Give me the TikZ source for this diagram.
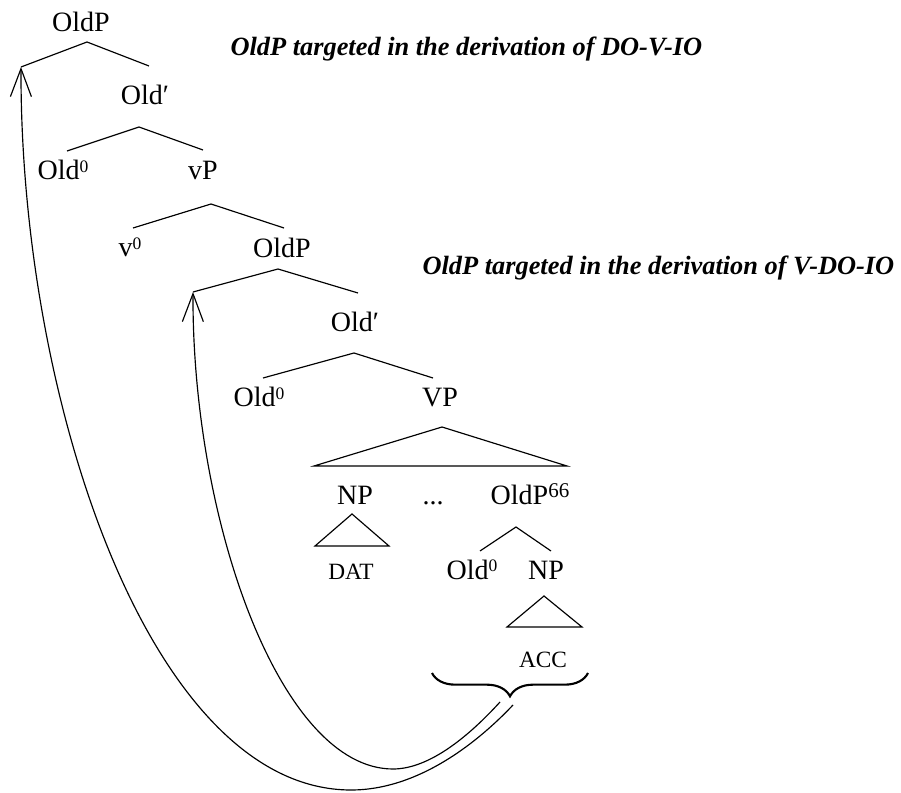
\documentclass[tikz,border=0pt]{standalone}
\usepackage{fontspec}
\setmainfont{Liberation Serif}
\usetikzlibrary{arrows.meta,decorations.pathreplacing}
\newcommand\zero{\raisebox{3.2pt}{\fontsize{7.5}{8}\selectfont 0}}
\newcommand\sixsix{\raisebox{3.4pt}{\fontsize{9}{10}\selectfont 66}}

\begin{document}
\begin{tikzpicture}[x=0.4286pt, y=-0.4286pt, line width=0.5pt,
  lab/.style={inner sep=0pt, anchor=base, font=\fontsize{12}{14}\selectfont},
  leaf/.style={inner sep=0pt, anchor=base, font=\fontsize{10}{12}\selectfont},
  note/.style={inner sep=0pt, anchor=base west, font=\fontsize{11.3}{13}\selectfont\bfseries\itshape},
  move/.style={-{Straight Barb[length=12pt,width=9pt]}}]
  \useasboundingbox (0,0) rectangle (901,793);

  % labels of the tree
  \node[lab] (oldp1) at (81,32) {OldP};
  \node[lab] (obar1) at (145,105) {Old′};
  \node[lab] (old1) at (63,180) {Old\zero};
  \node[lab] (vp1) at (203,180) {vP};
  \node[lab] (vzero) at (130,257) {v\zero};
  \node[lab] (oldp2) at (282,258) {OldP};
  \node[lab] (obar2) at (355,332) {Old′};
  \node[lab] (old2) at (259,407) {Old\zero};
  \node[lab] (vp2) at (440,407) {VP};
  \node[lab] (np1) at (355,505) {NP};
  \node[lab] (dots) at (433,505) {...};
  \node[lab] (oldp3) at (530,505) {OldP\sixsix};
  \node[leaf] (dat) at (351,579) {DAT};
  \node[lab] (old3) at (472,579) {Old\zero};
  \node[lab] (np3) at (546,579) {NP};
  \node[leaf] (acc) at (543,667) {ACC};
  \node[note] (note1) at (230,56) {OldP targeted in the derivation of DO-V-IO};
  \node[note] (note2) at (422,275) {OldP targeted in the derivation of V-DO-IO};

  % empty specifiers
  \coordinate (spec1) at (21,67);
  \coordinate (spec2) at (193,292);

  % branches
  \draw (spec1) -- ([shift={(6,10)}]oldp1.base) -- ([shift={(4,-39)}]obar1.base);
  \draw ([shift={(4,-29)}]old1.base) -- ([shift={(-6,22)}]obar1.base) -- ([shift={(0,-30)}]vp1.base);
  \draw ([shift={(3,-29)}]vzero.base) -- ([shift={(8,24)}]vp1.base) -- ([shift={(2,-30)}]oldp2.base);
  \draw (spec2) -- ([shift={(-4,11)}]oldp2.base) -- ([shift={(3,-39)}]obar2.base);
  \draw ([shift={(4,-29)}]old2.base) -- ([shift={(-1,21)}]obar2.base) -- ([shift={(-7,-29)}]vp2.base);
  \draw ([shift={(2,20)}]vp2.base) -- ([shift={(-126,59)}]vp2.base) -- ([shift={(127,59)}]vp2.base) -- cycle;
  \draw ([shift={(-3,9)}]np1.base) -- ([shift={(-40,41)}]np1.base) -- ([shift={(34,41)}]np1.base) -- cycle;
  \draw ([shift={(8,-28)}]old3.base) -- ([shift={(-14,22)}]oldp3.base) -- ([shift={(5,-28)}]np3.base);
  \draw ([shift={(-2,17)}]np3.base) -- ([shift={(-39,48)}]np3.base) -- ([shift={(36,48)}]np3.base) -- cycle;

  % brace under the moved part
  \coordinate (bl) at (432,673);
  \coordinate (br) at (588,673);
  \coordinate (tip) at (510,698);
  \draw[line width=0.9pt, decorate, decoration={brace, amplitude=10pt}] (br) -- (bl);

  % movements
  \draw[move] ([shift={(3,7)}]tip) .. controls (480,740) and (420,790) .. (351,790)
    .. controls (150,790) and (20,400) .. (spec1);
  \draw[move] ([shift={(-10,4)}]tip) .. controls (470,735) and (430,769) .. (393,769)
    .. controls (280,769) and (192,520) .. (spec2);
\end{tikzpicture}
\end{document}
